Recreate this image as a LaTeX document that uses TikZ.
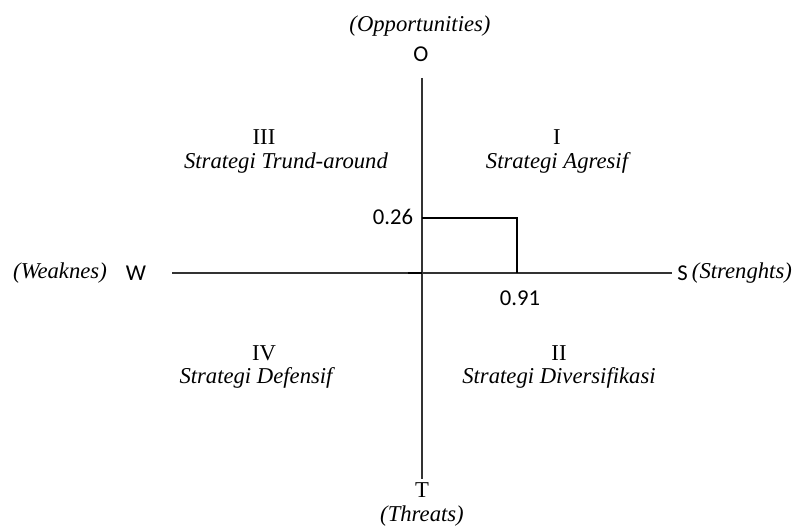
\documentclass[tikz,border=0pt]{standalone}
\usepackage{fontspec}
\setmainfont{Liberation Serif}
\newfontfamily\calib{Carlito}
\begin{document}
\begin{tikzpicture}[x=0.75pt,y=-0.75pt,
  lab/.style={inner sep=0pt,font=\fontsize{17}{20}\selectfont\itshape},
  roman/.style={inner sep=0pt,font=\fontsize{17}{20}\selectfont},
  cal/.style={inner sep=0pt,font=\fontsize{17}{20}\selectfont\calib},
  axis/.style={draw=black!80,line width=1pt},
  box/.style={draw=black,line width=1.6pt}]
\useasboundingbox (0,0) rectangle (801,528);
% axis labels
\node[lab] (opp) at (420,26) {(Opportunities)};
\node[cal] (O) at (421,54) {O};
\node[roman] (T) at (422,490) {T};
\node[lab] (thr) at (422,516) {(Threats)};
\node[cal] (W) at (136,273) {W};
\node[lab] (weak) at (60,273) {(Weaknes)};
\node[cal,anchor=west] (S) at (677,273) {S};
\node[lab,anchor=west] (strg) at (S.east) {\,(Strenghts)};
% axis end points
\coordinate (vtop) at (422,78);
\coordinate (vbot) at (422,479);
\coordinate (hleft) at (172,273);
\coordinate (hright) at (672,273);
\coordinate (orig) at (422,273);
\draw[axis] (vtop) -- (vbot);
\draw[axis] (hleft) -- (hright);
% score box
\coordinate (p26) at (422,218);
\coordinate (corner) at (517,218);
\coordinate (p91) at (517,273);
\coordinate (tick) at (408,273);
\draw[box] (p26) -- (corner) -- (p91);
\draw[box] (tick) -- (orig);
\node[cal] (v26) at (393,217) {0.26};
\node[cal] (v91) at (520,298) {0.91};
% quadrants
\node[roman] (q3) at (264,137) {III};
\node[lab] (s3) at (286,163) {Strategi Trund-around};
\node[roman] (q1) at (557,137) {I};
\node[lab] (s1) at (557,163) {Strategi Agresif};
\node[roman] (q4) at (264,353) {IV};
\node[lab] (s4) at (256,378) {Strategi Defensif};
\node[roman] (q2) at (559,353) {II};
\node[lab] (s2) at (559,378) {Strategi Diversifikasi};
\end{tikzpicture}
\end{document}
